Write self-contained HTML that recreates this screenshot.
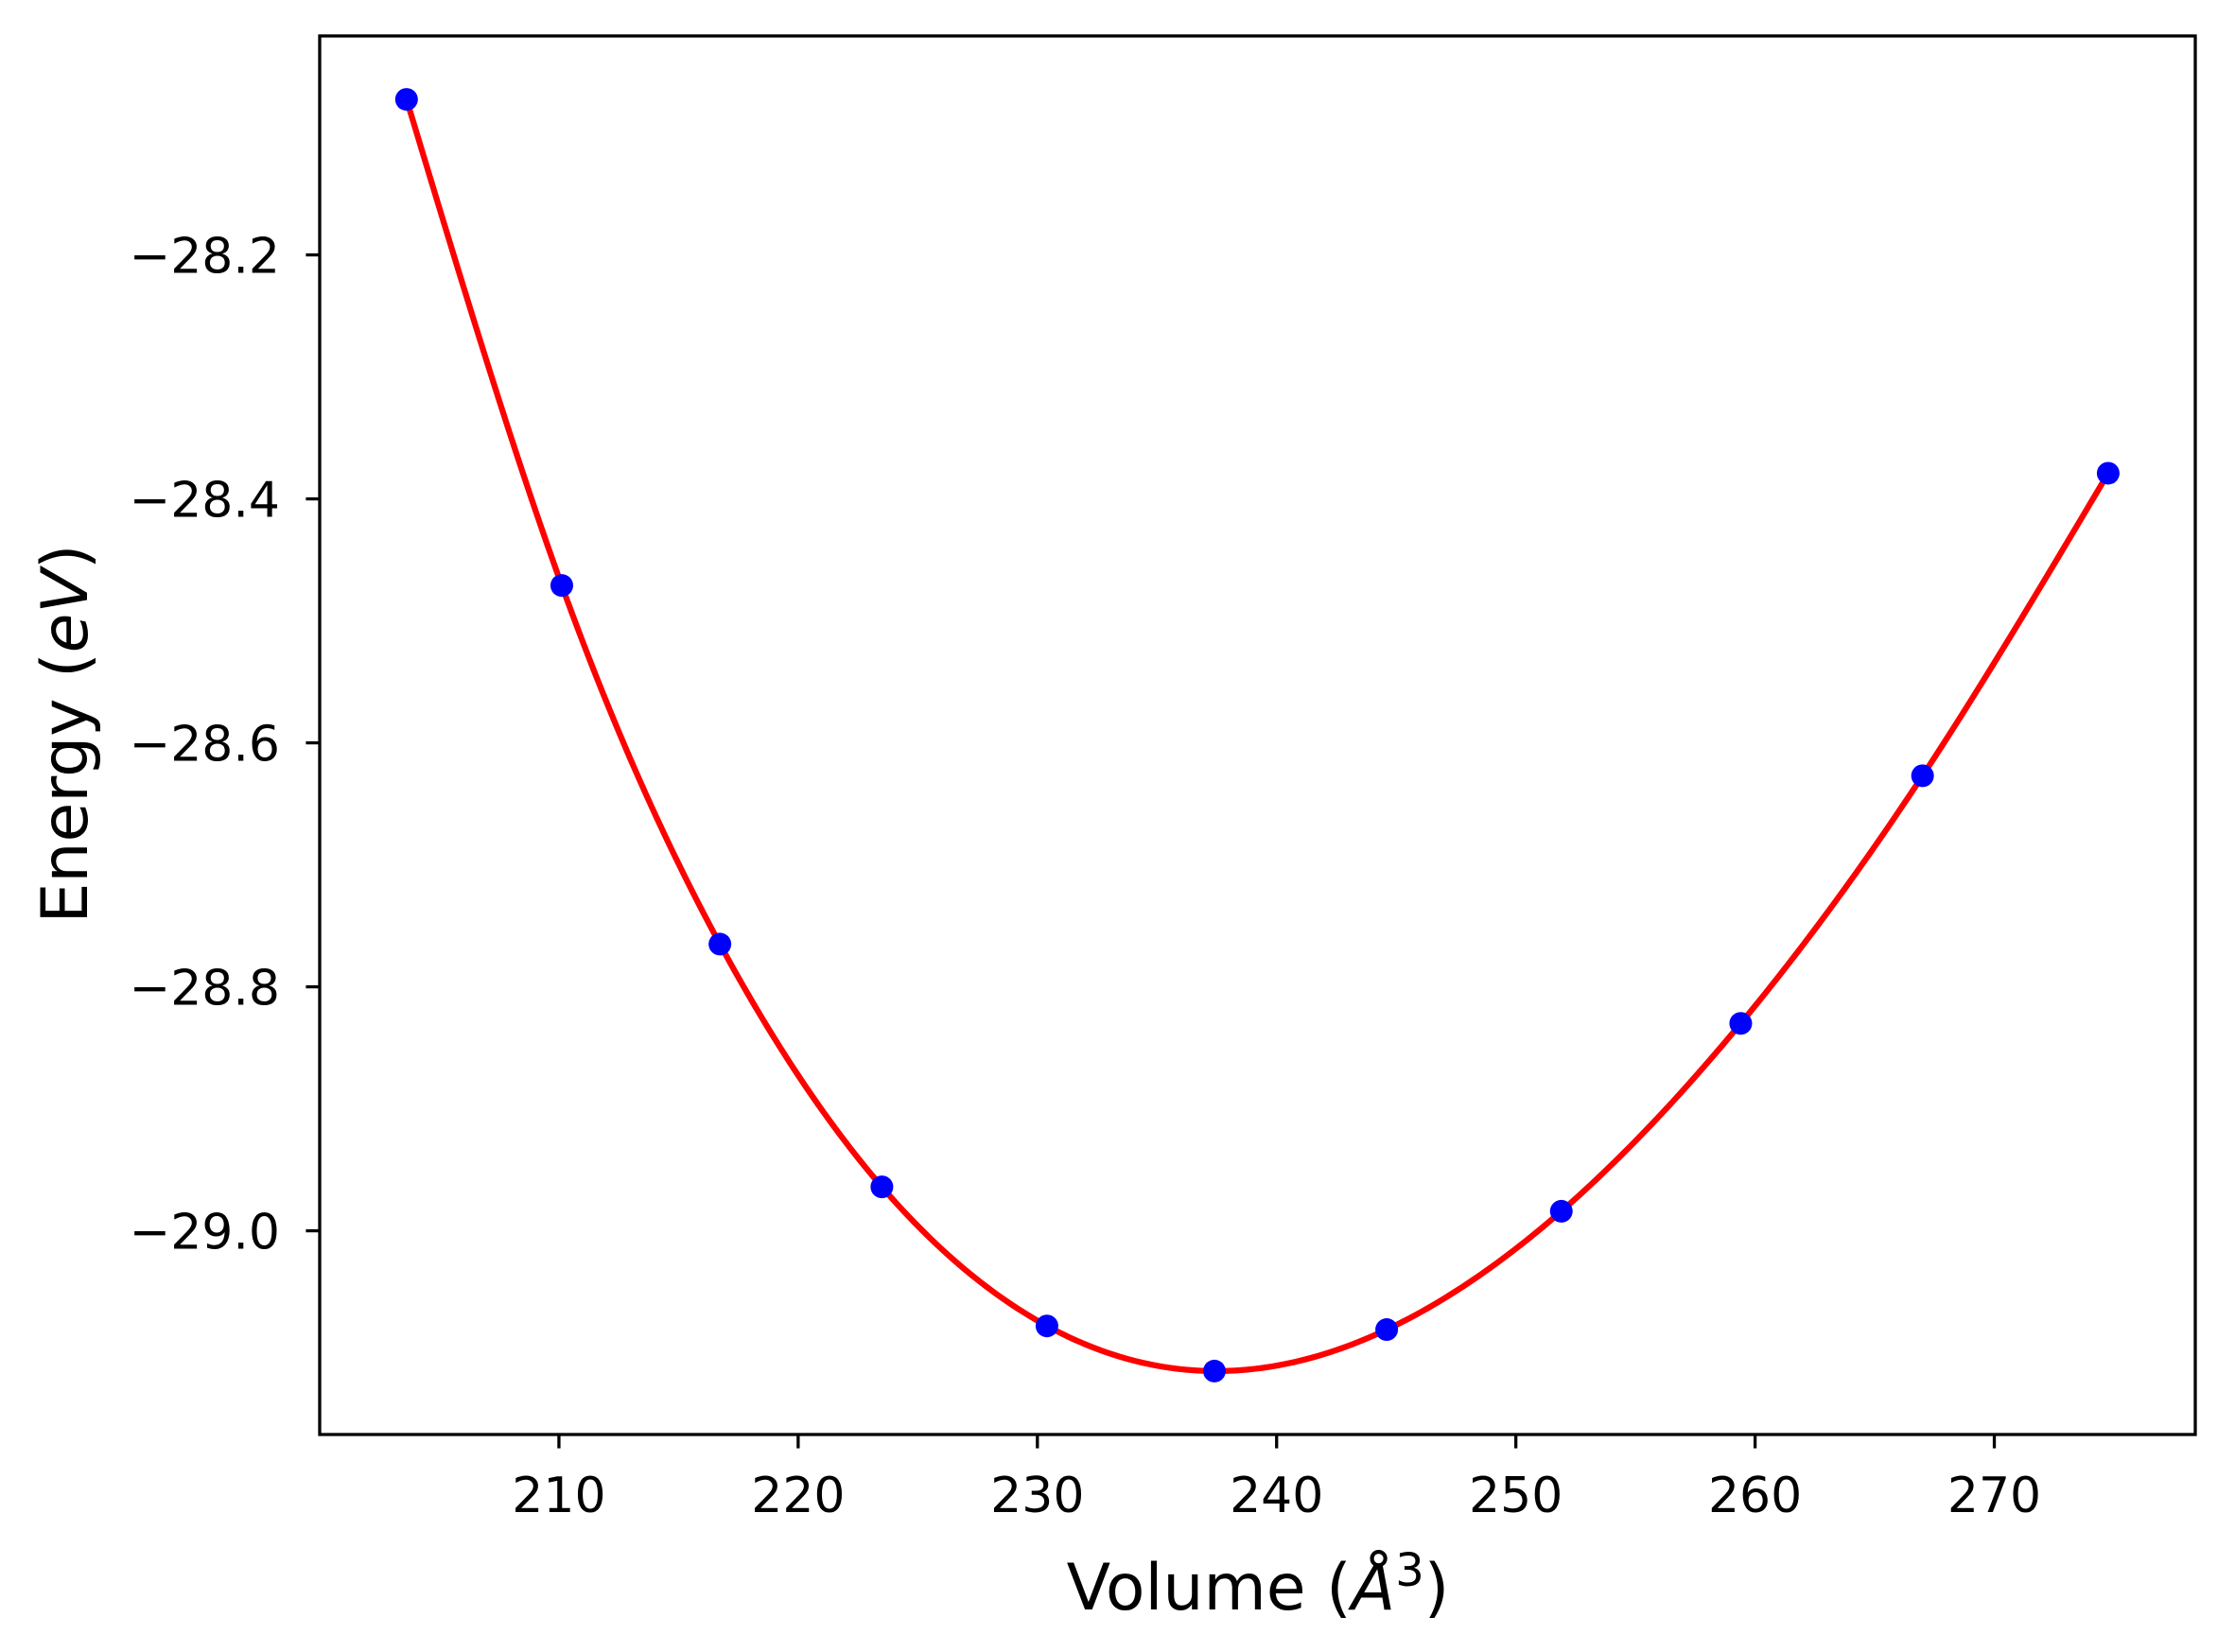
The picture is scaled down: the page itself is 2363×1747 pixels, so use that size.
<!DOCTYPE html>
<html><head><meta charset="utf-8"><style>html,body{margin:0;padding:0;background:#fff}svg{display:block}</style></head>
<body>
<svg id="chart" width="2363" height="1747" viewBox="0 0 2363 1747" xmlns="http://www.w3.org/2000/svg" font-family="DejaVu Sans, Liberation Sans, sans-serif">
<rect width="2363" height="1747" fill="#fff"/>
<g id="plot"></g>
<rect x="338" y="38" width="1983" height="1479" fill="none" stroke="#000" stroke-width="3.3"/>
<text x="1330" y="1702" font-size="68" text-anchor="middle">Volume (<tspan font-style="italic">Å</tspan><tspan font-size="48" dy="-25">3</tspan><tspan dy="25">)</tspan></text>
<text transform="translate(92,776) rotate(-90)" font-size="68" text-anchor="middle">Energy (<tspan font-style="italic">eV</tspan>)</text>
<g id="ticks"></g>
</svg>
<script>
const volumes = [203.63, 210.12, 216.73, 223.5, 230.4, 237.4, 244.6, 251.9, 259.4, 267.0, 274.76];
const energies = [-28.0725, -28.471, -28.765, -28.964, -29.078, -29.115, -29.081, -28.984, -28.830, -28.627, -28.379];
const xTicks = [210, 220, 230, 240, 250, 260, 270];
const yTicks = [-28.2, -28.4, -28.6, -28.8, -29.0];
const yTickLabels = ["\u221228.2", "\u221228.4", "\u221228.6", "\u221228.8", "\u221229.0"];

const L=338,R=2321,T=38,B=1517;
const xMin=200.0,xMax=278.4,yMin=-29.167,yMax=-28.0205;
function px(v){return L+(v-xMin)/(xMax-xMin)*(R-L);}
function py(e){return B-(e-yMin)/(yMax-yMin)*(B-T);}
const NS="http://www.w3.org/2000/svg";
const plot=document.getElementById('plot'), ticks=document.getElementById('ticks');

const n=volumes.length, h=[], al=[], l=[1], mu=[0], z=[0], c=new Array(n).fill(0), b=[], d=[];
for(let i=0;i<n-1;i++)h.push(volumes[i+1]-volumes[i]);
for(let i=1;i<n-1;i++)al[i]=3/h[i]*(energies[i+1]-energies[i])-3/h[i-1]*(energies[i]-energies[i-1]);
for(let i=1;i<n-1;i++){l[i]=2*(volumes[i+1]-volumes[i-1])-h[i-1]*mu[i-1];mu[i]=h[i]/l[i];z[i]=(al[i]-h[i-1]*z[i-1])/l[i];}
l[n-1]=1;z[n-1]=0;
for(let j=n-2;j>=0;j--){c[j]=z[j]-mu[j]*c[j+1];b[j]=(energies[j+1]-energies[j])/h[j]-h[j]*(c[j+1]+2*c[j])/3;d[j]=(c[j+1]-c[j])/(3*h[j]);}
let dstr='';
for(let j=0;j<n-1;j++){for(let k=0;k<=30;k++){const t=h[j]*k/30;const e=energies[j]+b[j]*t+c[j]*t*t+d[j]*t*t*t;dstr+=(dstr?'L':'M')+px(volumes[j]+t).toFixed(2)+','+py(e).toFixed(2);}}
const path=document.createElementNS(NS,'path');
path.setAttribute('d',dstr);path.setAttribute('fill','none');path.setAttribute('stroke','#ff0000');path.setAttribute('stroke-width','6.25');path.setAttribute('stroke-linejoin','round');


plot.appendChild(path);
volumes.forEach((v,i)=>{
  const c2=document.createElementNS(NS,'circle');
  c2.setAttribute('cx',px(v));c2.setAttribute('cy',py(energies[i]));c2.setAttribute('r','12');c2.setAttribute('fill','#0000ff');
  
  
  plot.appendChild(c2);
});
xTicks.forEach(v=>{
  const x=px(v);
  const ln=document.createElementNS(NS,'line');
  ln.setAttribute('x1',x);ln.setAttribute('x2',x);ln.setAttribute('y1',B);ln.setAttribute('y2',B+14.6);ln.setAttribute('stroke','#000');ln.setAttribute('stroke-width','3.3');
  
  
  ticks.appendChild(ln);
  const tx=document.createElementNS(NS,'text');
  tx.setAttribute('x',x);tx.setAttribute('y',B+82);tx.setAttribute('font-size','52');tx.setAttribute('text-anchor','middle');tx.textContent=v;
  
  
  ticks.appendChild(tx);
});
yTicks.forEach((e,i)=>{
  const y=py(e);
  const ln=document.createElementNS(NS,'line');
  ln.setAttribute('x1',L-14.6);ln.setAttribute('x2',L);ln.setAttribute('y1',y);ln.setAttribute('y2',y);ln.setAttribute('stroke','#000');ln.setAttribute('stroke-width','3.3');
  
  
  ticks.appendChild(ln);
  const tx=document.createElementNS(NS,'text');
  tx.setAttribute('x',L-42);tx.setAttribute('y',y+19);tx.setAttribute('font-size','52');tx.setAttribute('text-anchor','end');tx.textContent=yTickLabels[i];
  
  
  ticks.appendChild(tx);
});
</script>
</body></html>
